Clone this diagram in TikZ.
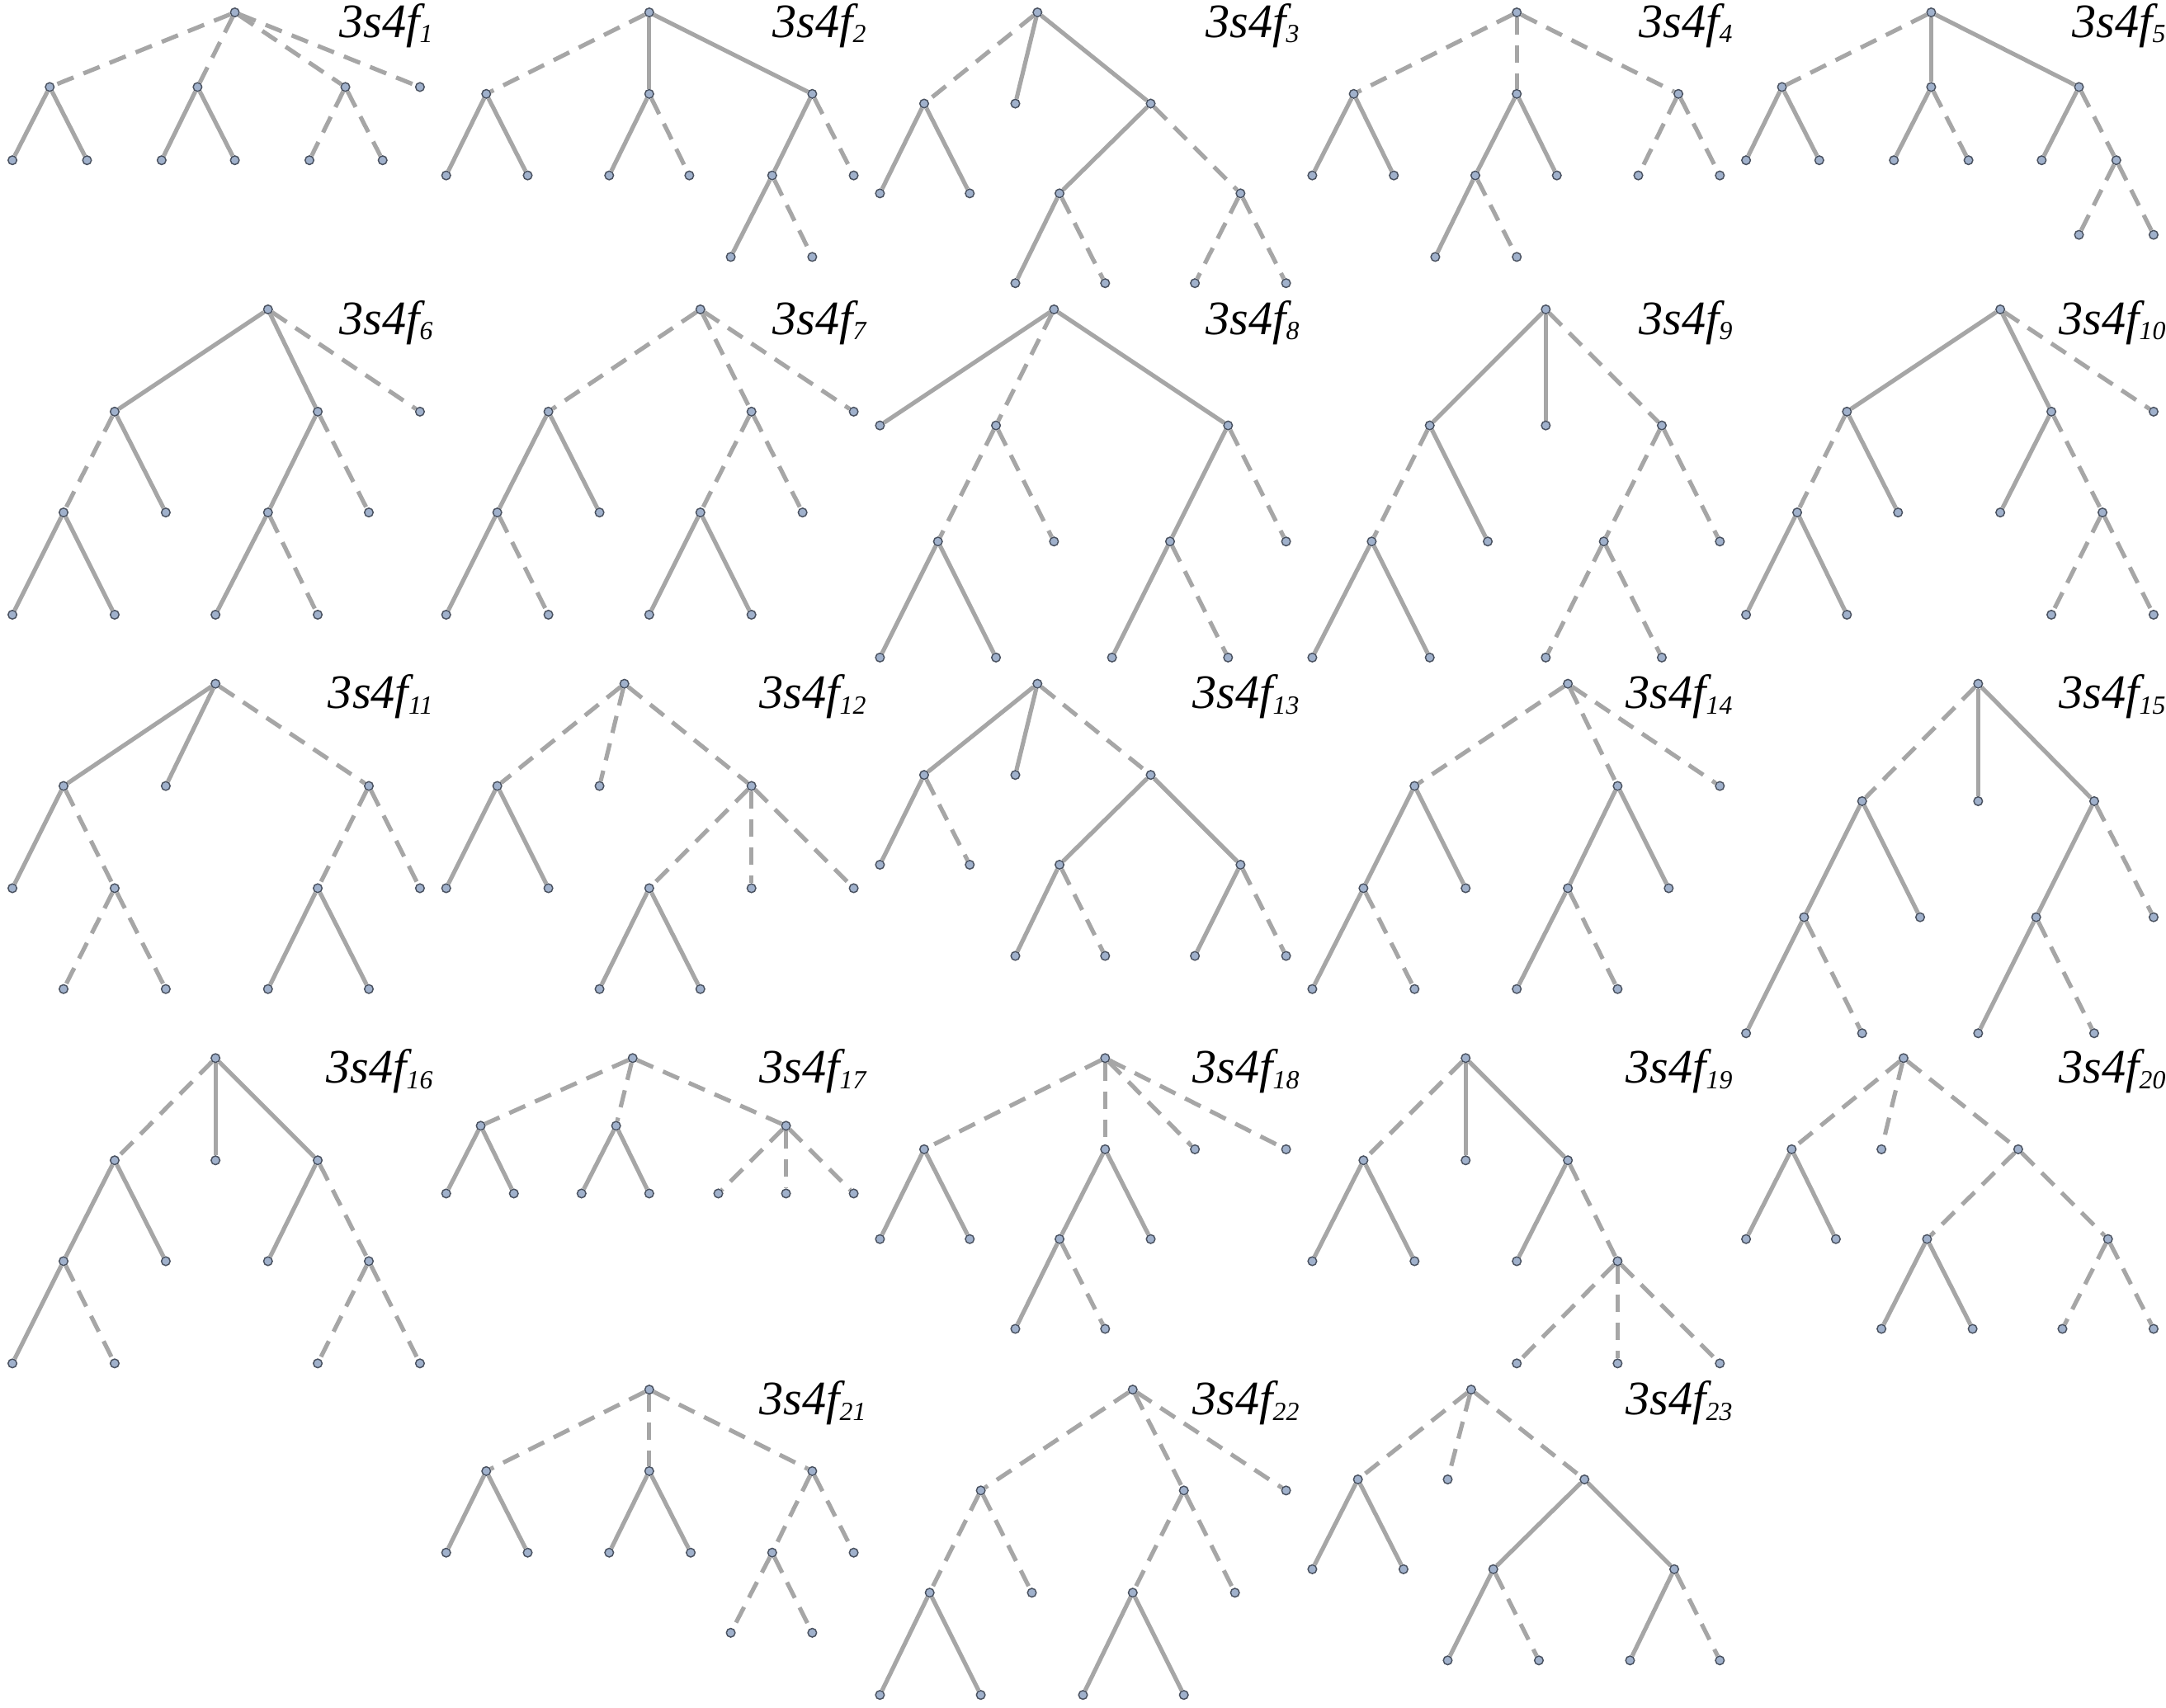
\documentclass[tikz,border=0pt]{standalone}
\usepackage{fontspec}
\newfontfamily\labfont{Liberation Serif}
\pgfdeclarelayer{bg}
\pgfsetlayers{bg,main}
\definecolor{edgegray}{HTML}{A6A6A6}
\definecolor{vfill}{HTML}{A0B1CC}
\definecolor{vdraw}{HTML}{4A5260}
\newcommand{\flab}[1]{{\labfont\itshape\fontsize{19.8}{22}\selectfont 3s4f\raisebox{-2.3pt}{\fontsize{10.8}{12}\selectfont #1}}}
\begin{document}
\begin{tikzpicture}[x=0.02cm,y=-0.02cm,
 vtx/.style={circle,draw=vdraw,fill=vfill,line width=0.5pt,inner sep=0pt,minimum size=3.6pt},
 se/.style={draw=edgegray,line width=1.75pt},
 de/.style={se,dash pattern=on 7.2pt off 4.4pt},
 lab/.style={anchor=base east,inner sep=0pt}]
\useasboundingbox (0,0) rectangle (1568,1236);
\begin{pgfonlayer}{bg}
\fill[white] (0,0) rectangle (1568,1236);
\end{pgfonlayer}
% ---------- nodes ----------
\foreach \n/\x/\y in {
 t1/170/9, t1-1/36/63, t1-2/143/63, t1-3/250/63, t1-4/304/63,
 t1-1-1/9/116, t1-1-2/63/116, t1-2-1/117/116, t1-2-2/170/116, t1-3-1/224/116, t1-3-2/277/116,
 t2/470/9, t2-1/352/68, t2-2/470/68, t2-3/588/68,
 t2-1-1/323/127, t2-1-2/382/127, t2-2-1/441/127, t2-2-2/499/127, t2-3-1/559/127, t2-3-2/618/127,
 t2-3-1-1/529/186, t2-3-1-2/588/186,
 t3/751/9, t3-1/669/75, t3-2/735/75, t3-3/833/75,
 t3-1-1/637/140, t3-1-2/702/140, t3-3-1/767/140, t3-3-2/898/140,
 t3-3-1-1/735/205, t3-3-1-2/800/205, t3-3-2-1/865/205, t3-3-2-2/931/205,
 t4/1098/9, t4-1/980/68, t4-2/1098/68, t4-3/1215/68,
 t4-1-1/950/127, t4-1-2/1009/127, t4-2-1/1068/127, t4-2-2/1127/127, t4-3-1/1186/127, t4-3-2/1245/127,
 t4-2-1-1/1039/186, t4-2-1-2/1098/186,
 t5/1398/9, t5-1/1290/63, t5-2/1398/63, t5-3/1505/63,
 t5-1-1/1264/116, t5-1-2/1317/116, t5-2-1/1371/116, t5-2-2/1425/116, t5-3-1/1478/116, t5-3-2/1532/116,
 t5-3-2-1/1505/170, t5-3-2-2/1559/170}
 \node[vtx] (\n) at (\x,\y) {};
\foreach \n/\x/\y in {
 t6/194/224, t6-1/83/298, t6-2/230/298, t6-3/304/298,
 t6-1-1/46/371, t6-1-2/120/371, t6-2-1/194/371, t6-2-2/267/371,
 t6-1-1-1/9/445, t6-1-1-2/83/445, t6-2-1-1/156/445, t6-2-1-2/230/445,
 t7/507/224, t7-1/397/298, t7-2/544/298, t7-3/618/298,
 t7-1-1/360/371, t7-1-2/434/371, t7-2-1/507/371, t7-2-2/581/371,
 t7-1-1-1/323/445, t7-1-1-2/397/445, t7-2-1-1/470/445, t7-2-1-2/544/445,
 t8/763/224, t8-1/637/308, t8-2/721/308, t8-3/889/308,
 t8-2-1/679/392, t8-2-2/763/392, t8-3-1/847/392, t8-3-2/931/392,
 t8-2-1-1/637/476, t8-2-1-2/721/476, t8-3-1-1/805/476, t8-3-1-2/889/476,
 t9/1119/224, t9-1/1035/308, t9-2/1119/308, t9-3/1203/308,
 t9-1-1/993/392, t9-1-2/1077/392, t9-3-1/1161/392, t9-3-2/1245/392,
 t9-1-1-1/950/476, t9-1-1-2/1035/476, t9-3-1-1/1119/476, t9-3-1-2/1203/476,
 t10/1448/224, t10-1/1337/298, t10-2/1485/298, t10-3/1559/298,
 t10-1-1/1301/371, t10-1-2/1374/371, t10-2-1/1448/371, t10-2-2/1522/371,
 t10-1-1-1/1264/445, t10-1-1-2/1337/445, t10-2-2-1/1485/445, t10-2-2-2/1559/445}
 \node[vtx] (\n) at (\x,\y) {};
\foreach \n/\x/\y in {
 t11/156/495, t11-1/46/569, t11-2/120/569, t11-3/267/569,
 t11-1-1/9/643, t11-1-2/83/643, t11-3-1/230/643, t11-3-2/304/643,
 t11-1-2-1/46/716, t11-1-2-2/120/716, t11-3-1-1/194/716, t11-3-1-2/267/716,
 t12/452/495, t12-1/360/569, t12-2/434/569, t12-3/544/569,
 t12-1-1/323/643, t12-1-2/397/643, t12-3-1/470/643, t12-3-2/544/643, t12-3-3/618/643,
 t12-3-1-1/434/716, t12-3-1-2/507/716,
 t13/751/495, t13-1/669/561, t13-2/735/561, t13-3/833/561,
 t13-1-1/637/626, t13-1-2/702/626, t13-3-1/767/626, t13-3-2/898/626,
 t13-3-1-1/735/692, t13-3-1-2/800/692, t13-3-2-1/865/692, t13-3-2-2/931/692,
 t14/1135/495, t14-1/1024/569, t14-2/1171/569, t14-3/1245/569,
 t14-1-1/987/643, t14-1-2/1061/643, t14-2-1/1135/643, t14-2-2/1208/643,
 t14-1-1-1/950/716, t14-1-1-2/1024/716, t14-2-1-1/1098/716, t14-2-1-2/1171/716,
 t15/1432/495, t15-1/1348/580, t15-2/1432/580, t15-3/1516/580,
 t15-1-1/1306/664, t15-1-2/1390/664, t15-3-1/1474/664, t15-3-2/1559/664,
 t15-1-1-1/1264/748, t15-1-1-2/1348/748, t15-3-1-1/1432/748, t15-3-1-2/1516/748}
 \node[vtx] (\n) at (\x,\y) {};
\foreach \n/\x/\y in {
 t16/156/766, t16-1/83/840, t16-2/156/840, t16-3/230/840,
 t16-1-1/46/913, t16-1-2/120/913, t16-3-1/194/913, t16-3-2/267/913,
 t16-1-1-1/9/987, t16-1-1-2/83/987, t16-3-2-1/230/987, t16-3-2-2/304/987,
 t17/458/766, t17-1/348/815, t17-2/446/815, t17-3/569/815,
 t17-1-1/323/864, t17-1-2/372/864, t17-2-1/421/864, t17-2-2/470/864,
 t17-3-1/520/864, t17-3-2/569/864, t17-3-3/618/864,
 t18/800/766, t18-1/669/832, t18-2/800/832, t18-3/865/832, t18-4/931/832,
 t18-1-1/637/897, t18-1-2/702/897, t18-2-1/767/897, t18-2-2/833/897,
 t18-2-1-1/735/962, t18-2-1-2/800/962,
 t19/1061/766, t19-1/987/840, t19-2/1061/840, t19-3/1135/840,
 t19-1-1/950/913, t19-1-2/1024/913, t19-3-1/1098/913, t19-3-2/1171/913,
 t19-3-2-1/1098/987, t19-3-2-2/1171/987, t19-3-2-3/1245/987,
 t20/1378/766, t20-1/1297/832, t20-2/1362/832, t20-3/1461/832,
 t20-1-1/1264/897, t20-1-2/1329/897, t20-3-1/1395/897, t20-3-2/1526/897,
 t20-3-1-1/1362/962, t20-3-1-2/1428/962, t20-3-2-1/1493/962, t20-3-2-2/1559/962}
 \node[vtx] (\n) at (\x,\y) {};
\foreach \n/\x/\y in {
 t21/470/1006, t21-1/352/1065, t21-2/470/1065, t21-3/588/1065,
 t21-1-1/323/1124, t21-1-2/382/1124, t21-2-1/441/1124, t21-2-2/500/1124,
 t21-3-1/559/1124, t21-3-2/618/1124, t21-3-1-1/529/1182, t21-3-1-2/588/1182,
 t22/820/1006, t22-1/710/1079, t22-2/857/1079, t22-3/931/1079,
 t22-1-1/673/1153, t22-1-2/747/1153, t22-2-1/820/1153, t22-2-2/894/1153,
 t22-1-1-1/637/1227, t22-1-1-2/710/1227, t22-2-1-1/784/1227, t22-2-1-2/857/1227,
 t23/1065/1006, t23-1/983/1071, t23-2/1048/1071, t23-3/1147/1071,
 t23-1-1/950/1136, t23-1-2/1016/1136, t23-3-1/1081/1136, t23-3-2/1212/1136,
 t23-3-1-1/1048/1202, t23-3-1-2/1114/1202, t23-3-2-1/1180/1202, t23-3-2-2/1245/1202}
 \node[vtx] (\n) at (\x,\y) {};
% ---------- edges ----------
\begin{pgfonlayer}{bg}
% solid edges
\foreach \a/\b in {
 t1-1/t1-1-1, t1-1/t1-1-2, t1-2/t1-2-1, t1-2/t1-2-2,
 t2/t2-2, t2/t2-3, t2-1/t2-1-1, t2-1/t2-1-2, t2-2/t2-2-1, t2-3/t2-3-1, t2-3-1/t2-3-1-1,
 t3/t3-2, t3/t3-3, t3-1/t3-1-1, t3-1/t3-1-2, t3-3/t3-3-1, t3-3-1/t3-3-1-1,
 t4-1/t4-1-1, t4-1/t4-1-2, t4-2/t4-2-1, t4-2/t4-2-2, t4-2-1/t4-2-1-1,
 t5/t5-2, t5/t5-3, t5-1/t5-1-1, t5-1/t5-1-2, t5-2/t5-2-1, t5-3/t5-3-1,
 t6/t6-1, t6/t6-2, t6-1/t6-1-2, t6-2/t6-2-1, t6-1-1/t6-1-1-1, t6-1-1/t6-1-1-2, t6-2-1/t6-2-1-1,
 t7-1/t7-1-1, t7-1/t7-1-2, t7-1-1/t7-1-1-1, t7-2-1/t7-2-1-1, t7-2-1/t7-2-1-2,
 t8/t8-1, t8/t8-3, t8-3/t8-3-1, t8-2-1/t8-2-1-1, t8-2-1/t8-2-1-2, t8-3-1/t8-3-1-1,
 t9/t9-1, t9/t9-2, t9-1/t9-1-2, t9-1-1/t9-1-1-1, t9-1-1/t9-1-1-2,
 t10/t10-1, t10/t10-2, t10-1/t10-1-2, t10-2/t10-2-1, t10-1-1/t10-1-1-1, t10-1-1/t10-1-1-2,
 t11/t11-1, t11/t11-2, t11-1/t11-1-1, t11-3-1/t11-3-1-1, t11-3-1/t11-3-1-2,
 t12-1/t12-1-1, t12-1/t12-1-2, t12-3-1/t12-3-1-1, t12-3-1/t12-3-1-2,
 t13/t13-1, t13/t13-2, t13-1/t13-1-1, t13-3/t13-3-1, t13-3/t13-3-2, t13-3-1/t13-3-1-1, t13-3-2/t13-3-2-1,
 t14-1/t14-1-1, t14-1/t14-1-2, t14-2/t14-2-1, t14-2/t14-2-2, t14-1-1/t14-1-1-1, t14-2-1/t14-2-1-1,
 t15/t15-2, t15/t15-3, t15-1/t15-1-1, t15-1/t15-1-2, t15-3/t15-3-1, t15-1-1/t15-1-1-1, t15-3-1/t15-3-1-1,
 t16/t16-2, t16/t16-3, t16-1/t16-1-1, t16-1/t16-1-2, t16-3/t16-3-1, t16-1-1/t16-1-1-1,
 t17-1/t17-1-1, t17-1/t17-1-2, t17-2/t17-2-1, t17-2/t17-2-2,
 t18-1/t18-1-1, t18-1/t18-1-2, t18-2/t18-2-1, t18-2/t18-2-2, t18-2-1/t18-2-1-1,
 t19/t19-2, t19/t19-3, t19-1/t19-1-1, t19-1/t19-1-2, t19-3/t19-3-1,
 t20-1/t20-1-1, t20-1/t20-1-2, t20-3-1/t20-3-1-1, t20-3-1/t20-3-1-2,
 t21-1/t21-1-1, t21-1/t21-1-2, t21-2/t21-2-1, t21-2/t21-2-2,
 t22-1-1/t22-1-1-1, t22-1-1/t22-1-1-2, t22-2-1/t22-2-1-1, t22-2-1/t22-2-1-2,
 t23-1/t23-1-1, t23-1/t23-1-2, t23-3/t23-3-1, t23-3/t23-3-2, t23-3-1/t23-3-1-1, t23-3-2/t23-3-2-1}
 \draw[se] (\a) -- (\b);
% dashed edges
\foreach \a/\b in {
 t1/t1-1, t1/t1-2, t1/t1-3, t1/t1-4, t1-3/t1-3-1, t1-3/t1-3-2,
 t2/t2-1, t2-2/t2-2-2, t2-3/t2-3-2, t2-3-1/t2-3-1-2,
 t3/t3-1, t3-3/t3-3-2, t3-3-1/t3-3-1-2, t3-3-2/t3-3-2-1, t3-3-2/t3-3-2-2,
 t4/t4-1, t4/t4-2, t4/t4-3, t4-3/t4-3-1, t4-3/t4-3-2, t4-2-1/t4-2-1-2,
 t5/t5-1, t5-2/t5-2-2, t5-3/t5-3-2, t5-3-2/t5-3-2-1, t5-3-2/t5-3-2-2,
 t6/t6-3, t6-1/t6-1-1, t6-2/t6-2-2, t6-2-1/t6-2-1-2,
 t7/t7-1, t7/t7-2, t7/t7-3, t7-2/t7-2-1, t7-2/t7-2-2, t7-1-1/t7-1-1-2,
 t8/t8-2, t8-2/t8-2-1, t8-2/t8-2-2, t8-3/t8-3-2, t8-3-1/t8-3-1-2,
 t9/t9-3, t9-1/t9-1-1, t9-3/t9-3-1, t9-3/t9-3-2, t9-3-1/t9-3-1-1, t9-3-1/t9-3-1-2,
 t10/t10-3, t10-1/t10-1-1, t10-2/t10-2-2, t10-2-2/t10-2-2-1, t10-2-2/t10-2-2-2,
 t11/t11-3, t11-1/t11-1-2, t11-3/t11-3-1, t11-3/t11-3-2, t11-1-2/t11-1-2-1, t11-1-2/t11-1-2-2,
 t12/t12-1, t12/t12-2, t12/t12-3, t12-3/t12-3-1, t12-3/t12-3-2, t12-3/t12-3-3,
 t13/t13-3, t13-1/t13-1-2, t13-3-1/t13-3-1-2, t13-3-2/t13-3-2-2,
 t14/t14-1, t14/t14-2, t14/t14-3, t14-1-1/t14-1-1-2, t14-2-1/t14-2-1-2,
 t15/t15-1, t15-3/t15-3-2, t15-1-1/t15-1-1-2, t15-3-1/t15-3-1-2,
 t16/t16-1, t16-3/t16-3-2, t16-1-1/t16-1-1-2, t16-3-2/t16-3-2-1, t16-3-2/t16-3-2-2,
 t17/t17-1, t17/t17-2, t17/t17-3, t17-3/t17-3-1, t17-3/t17-3-2, t17-3/t17-3-3,
 t18/t18-1, t18/t18-2, t18/t18-3, t18/t18-4, t18-2-1/t18-2-1-2,
 t19/t19-1, t19-3/t19-3-2, t19-3-2/t19-3-2-1, t19-3-2/t19-3-2-2, t19-3-2/t19-3-2-3,
 t20/t20-1, t20/t20-2, t20/t20-3, t20-3/t20-3-1, t20-3/t20-3-2, t20-3-2/t20-3-2-1, t20-3-2/t20-3-2-2,
 t21/t21-1, t21/t21-2, t21/t21-3, t21-3/t21-3-1, t21-3/t21-3-2, t21-3-1/t21-3-1-1, t21-3-1/t21-3-1-2,
 t22/t22-1, t22/t22-2, t22/t22-3, t22-1/t22-1-1, t22-1/t22-1-2, t22-2/t22-2-1, t22-2/t22-2-2,
 t23/t23-1, t23/t23-2, t23/t23-3, t23-3-1/t23-3-1-2, t23-3-2/t23-3-2-2}
 \draw[de] (\a) -- (\b);
\end{pgfonlayer}
% ---------- labels ----------
\node[lab] (L1) at (313.6,27) {\flab{1}};
\node[lab] (L2) at (627.2,27) {\flab{2}};
\node[lab] (L3) at (940.8,27) {\flab{3}};
\node[lab] (L4) at (1254.4,27) {\flab{4}};
\node[lab] (L5) at (1568,27) {\flab{5}};
\node[lab] (L6) at (313.6,242) {\flab{6}};
\node[lab] (L7) at (627.2,242) {\flab{7}};
\node[lab] (L8) at (940.8,242) {\flab{8}};
\node[lab] (L9) at (1254.4,242) {\flab{9}};
\node[lab] (L10) at (1568,242) {\flab{10}};
\node[lab] (L11) at (313.6,513) {\flab{11}};
\node[lab] (L12) at (627.2,513) {\flab{12}};
\node[lab] (L13) at (940.8,513) {\flab{13}};
\node[lab] (L14) at (1254.4,513) {\flab{14}};
\node[lab] (L15) at (1568,513) {\flab{15}};
\node[lab] (L16) at (313.6,784) {\flab{16}};
\node[lab] (L17) at (627.2,784) {\flab{17}};
\node[lab] (L18) at (940.8,784) {\flab{18}};
\node[lab] (L19) at (1254.4,784) {\flab{19}};
\node[lab] (L20) at (1568,784) {\flab{20}};
\node[lab] (L21) at (627.2,1024) {\flab{21}};
\node[lab] (L22) at (940.8,1024) {\flab{22}};
\node[lab] (L23) at (1254.4,1024) {\flab{23}};
\end{tikzpicture}
\end{document}
